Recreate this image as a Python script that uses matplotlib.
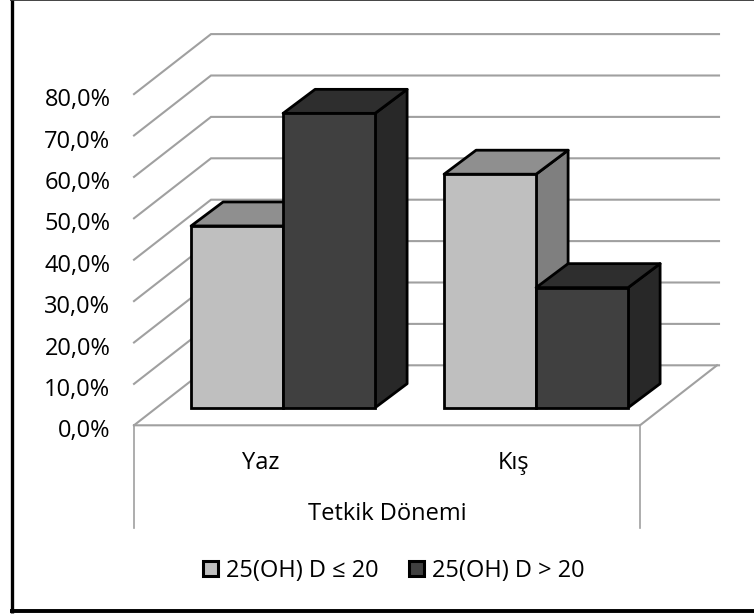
import matplotlib
matplotlib.use("Agg")
import matplotlib.pyplot as plt
from matplotlib.lines import Line2D
from matplotlib.patches import Polygon, Patch
from matplotlib.transforms import ScaledTranslation

categories = ["Yaz", "Kış"]
series_names = ["25(OH) D ≤ 20", "25(OH) D > 20"]
low_values = [43.9, 56.4]
high_values = [71.1, 29.0]
y_ticks = [0, 10, 20, 30, 40, 50, 60, 70, 80]
y_labels = ["0,0%", "10,0%", "20,0%", "30,0%", "40,0%", "50,0%", "60,0%", "70,0%", "80,0%"]
axis_title = "Tetkik Dönemi"

W, H = 754, 614
FONT = "Open Sans"
FS = 17
plt.rcParams["font.family"] = [FONT, "DejaVu Sans"]

fig = plt.figure(figsize=(W / 100, H / 100), dpi=100)
fig.patch.set_facecolor("white")

# Chart border (the right side runs off the image)
def border(xs, ys, lw, color="#000000"):
    fig.add_artist(Line2D([x / W for x in xs], [1 - y / H for y in ys], transform=fig.transFigure,
                          color=color, lw=lw, solid_capstyle="butt"))
border([11.5, 11.5], [0, 613], 2.4)
border([10, W], [611, 611], 2.8)
border([10, W], [0.4, 0.4], 1.2, "#222222")

# Front plane of the plot box
px_left, px_right, px_zero, px_top = 134, 640, 425.3, 94.1
ax = fig.add_axes([px_left / W, 1 - px_zero / H, (px_right - px_left) / W, (px_zero - px_top) / H])
ax.set_xlim(0, 2)
ax.set_ylim(0, 80)
ax.patch.set_visible(False)
for s in ax.spines.values():
    s.set_visible(False)

ux = (px_right - px_left) / 2      # px per category
uy = (px_zero - px_top) / 80       # px per percent
dx_full, dy_full = 77 / ux, 60 / uy  # depth of the floor in data units
grid_c, grid_lw = "#a0a0a0", 1.5

for v in y_ticks:
    ax.plot([0, dx_full, 2 + dx_full + 2 / ux], [v, v + dy_full, v + dy_full], color=grid_c, lw=grid_lw,
            clip_on=False, zorder=1, solid_joinstyle="miter")
# floor and lower walls
ax.plot([0, 2, 2 + dx_full], [0, 0, dy_full], color=grid_c, lw=grid_lw, clip_on=False, zorder=1)
for x in (0, 2):
    ax.plot([x, x], [0, -103 / uy], color=grid_c, lw=1.2, clip_on=False, zorder=1)

# Bars
bar_w = 92 / ux
gx = 22.6 / ux   # depth offset of bar front
gy = 17.6 / uy
bx, by = 32 / ux, 24 / uy  # depth of bars

face = [("#bfbfbf", "#8f8f8f", "#7f7f7f"), ("#404040", "#2e2e2e", "#282828")]
edge_lw = 2.0
z = 3
for i in range(len(categories)):
    center = i + 0.5 + gx
    for j, vals in enumerate((low_values, high_values)):
        x0 = center - bar_w + j * bar_w
        x1 = x0 + bar_w
        v = vals[i]
        front, top, side = face[j]
        kw = dict(ec="black", lw=edge_lw, clip_on=False, joinstyle="round")
        ax.add_patch(Polygon([(x1, gy), (x1 + bx, gy + by), (x1 + bx, gy + v + by), (x1, gy + v)],
                             fc=side, zorder=z, **kw))
        ax.add_patch(Polygon([(x0, gy + v), (x1, gy + v), (x1 + bx, gy + v + by), (x0 + bx, gy + v + by)],
                             fc=top, zorder=z, **kw))
        ax.bar(x0, v, width=bar_w, bottom=gy, align="edge", color=front, edgecolor="black",
               linewidth=edge_lw, clip_on=False, zorder=z + 0.5)
        z += 1

ax.set_yticks(y_ticks)
ax.set_yticklabels(y_labels, fontsize=FS, color="black")
ax.set_xticks([0.5, 1.5])
ax.set_xticklabels(categories, fontsize=FS, color="black")
ax.tick_params(axis="y", length=0, pad=17)
ax.tick_params(axis="x", length=0, pad=18.7)
shift = ScaledTranslation(0, -4.4 / 72, fig.dpi_scale_trans)
for t in ax.get_yticklabels():
    t.set_va("center")
    t.set_transform(t.get_transform() + shift)
ax.set_xlabel(axis_title, fontsize=FS, color="black", labelpad=19.2)

handles = [Patch(fc=face[k][0], ec="black", lw=2.2) for k in range(2)]
fig.legend(handles, series_names, loc="center", bbox_to_anchor=(394 / W, 1 - 571 / H), ncol=2,
           frameon=False, fontsize=FS, handlelength=0.62, handleheight=0.62, handletextpad=0.35,
           columnspacing=1.3, borderpad=0)

fig.savefig("out.png", dpi=100)
